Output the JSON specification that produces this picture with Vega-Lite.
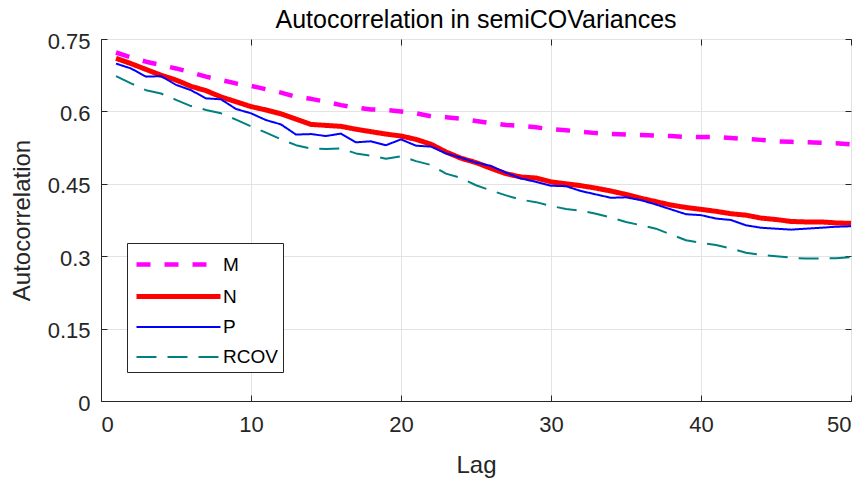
{
 "$schema": "https://vega.github.io/schema/vega-lite/v6.json",
 "width": 750, "height": 362,
 "autosize": {"type": "none"},
 "padding": {"left": 101, "top": 39, "right": 13, "bottom": 80},
 "background": "white",
 "title": {"text": "Autocorrelation in semiCOVariances", "fontSize": 25, "fontWeight": "normal", "font": "Liberation Sans", "color": "#000000", "offset": -3},
 "config": {
  "view": {"stroke": "#262626", "strokeWidth": 1},
  "axis": {"labelFont": "Liberation Sans", "labelFontSize": 22, "labelColor": "#262626", "titleFont": "Liberation Sans", "titleFontSize": 24, "titleFontWeight": "normal", "titleColor": "#262626", "domainColor": "#262626", "tickColor": "#262626", "gridColor": "#e3e3e3"},
  "legend": {"labelExpr": "datum.value + '\u2003\u2002'"}
 },
 "data": {"values": [
  {"lag":1,"M":0.722,"N":0.710,"P":0.699,"RCOV":0.673},
  {"lag":2,"M":0.712,"N":0.699,"P":0.689,"RCOV":0.658},
  {"lag":3,"M":0.703,"N":0.687,"P":0.672,"RCOV":0.644},
  {"lag":4,"M":0.696,"N":0.675,"P":0.673,"RCOV":0.637},
  {"lag":5,"M":0.689,"N":0.665,"P":0.655,"RCOV":0.624},
  {"lag":6,"M":0.681,"N":0.652,"P":0.644,"RCOV":0.611},
  {"lag":7,"M":0.672,"N":0.643,"P":0.627,"RCOV":0.603},
  {"lag":8,"M":0.665,"N":0.630,"P":0.625,"RCOV":0.596},
  {"lag":9,"M":0.658,"N":0.620,"P":0.605,"RCOV":0.583},
  {"lag":10,"M":0.653,"N":0.610,"P":0.596,"RCOV":0.569},
  {"lag":11,"M":0.646,"N":0.603,"P":0.582,"RCOV":0.556},
  {"lag":12,"M":0.639,"N":0.595,"P":0.573,"RCOV":0.542},
  {"lag":13,"M":0.630,"N":0.584,"P":0.552,"RCOV":0.530},
  {"lag":14,"M":0.626,"N":0.573,"P":0.553,"RCOV":0.523},
  {"lag":15,"M":0.620,"N":0.571,"P":0.549,"RCOV":0.522},
  {"lag":16,"M":0.613,"N":0.569,"P":0.554,"RCOV":0.523},
  {"lag":17,"M":0.608,"N":0.563,"P":0.536,"RCOV":0.513},
  {"lag":18,"M":0.604,"N":0.558,"P":0.538,"RCOV":0.508},
  {"lag":19,"M":0.603,"N":0.553,"P":0.530,"RCOV":0.502},
  {"lag":20,"M":0.600,"N":0.549,"P":0.542,"RCOV":0.507},
  {"lag":21,"M":0.596,"N":0.542,"P":0.529,"RCOV":0.497},
  {"lag":22,"M":0.590,"N":0.532,"P":0.527,"RCOV":0.489},
  {"lag":23,"M":0.588,"N":0.516,"P":0.513,"RCOV":0.471},
  {"lag":24,"M":0.585,"N":0.503,"P":0.504,"RCOV":0.462},
  {"lag":25,"M":0.580,"N":0.494,"P":0.494,"RCOV":0.447},
  {"lag":26,"M":0.576,"N":0.482,"P":0.487,"RCOV":0.436},
  {"lag":27,"M":0.572,"N":0.471,"P":0.473,"RCOV":0.426},
  {"lag":28,"M":0.570,"N":0.464,"P":0.461,"RCOV":0.417},
  {"lag":29,"M":0.567,"N":0.462,"P":0.454,"RCOV":0.412},
  {"lag":30,"M":0.563,"N":0.454,"P":0.446,"RCOV":0.404},
  {"lag":31,"M":0.561,"N":0.450,"P":0.445,"RCOV":0.398},
  {"lag":32,"M":0.558,"N":0.446,"P":0.435,"RCOV":0.394},
  {"lag":33,"M":0.555,"N":0.441,"P":0.428,"RCOV":0.388},
  {"lag":34,"M":0.553,"N":0.435,"P":0.421,"RCOV":0.380},
  {"lag":35,"M":0.552,"N":0.428,"P":0.422,"RCOV":0.371},
  {"lag":36,"M":0.551,"N":0.420,"P":0.416,"RCOV":0.364},
  {"lag":37,"M":0.550,"N":0.413,"P":0.407,"RCOV":0.357},
  {"lag":38,"M":0.549,"N":0.406,"P":0.397,"RCOV":0.345},
  {"lag":39,"M":0.547,"N":0.401,"P":0.387,"RCOV":0.333},
  {"lag":40,"M":0.547,"N":0.397,"P":0.385,"RCOV":0.328},
  {"lag":41,"M":0.547,"N":0.393,"P":0.378,"RCOV":0.323},
  {"lag":42,"M":0.545,"N":0.388,"P":0.375,"RCOV":0.316},
  {"lag":43,"M":0.543,"N":0.385,"P":0.364,"RCOV":0.307},
  {"lag":44,"M":0.541,"N":0.379,"P":0.359,"RCOV":0.303},
  {"lag":45,"M":0.538,"N":0.376,"P":0.357,"RCOV":0.300},
  {"lag":46,"M":0.537,"N":0.372,"P":0.355,"RCOV":0.297},
  {"lag":47,"M":0.536,"N":0.371,"P":0.357,"RCOV":0.295},
  {"lag":48,"M":0.535,"N":0.371,"P":0.359,"RCOV":0.295},
  {"lag":49,"M":0.534,"N":0.369,"P":0.361,"RCOV":0.296},
  {"lag":50,"M":0.532,"N":0.368,"P":0.362,"RCOV":0.298}
 ]},
 "transform": [{"fold": ["M", "N", "P", "RCOV"], "as": ["series", "value"]}],
 "layer": [
  {
   "mark": {"type": "line", "strokeCap": "butt", "strokeJoin": "round"},
   "encoding": {
    "x": {"field": "lag", "type": "quantitative", "scale": {"domain": [0, 50], "nice": false},
          "axis": {"values": [0, 10, 20, 30, 40, 50], "grid": true, "tickSize": -6, "labelPadding": 19, "title": "Lag", "titlePadding": 18}},
    "y": {"field": "value", "type": "quantitative", "scale": {"domain": [0, 0.75], "nice": false},
          "axis": {"values": [0, 0.15, 0.3, 0.45, 0.6, 0.75], "format": ".2~f", "grid": true, "tickSize": -6, "labelPadding": 17, "labelOffset": 2, "title": "Autocorrelation", "titlePadding": 13}},
    "color": {"field": "series", "type": "nominal",
              "scale": {"domain": ["M", "N", "P", "RCOV"], "range": ["#ff00ff", "#ff0000", "#0000ff", "#008080"]},
              "legend": {"orient": "none", "legendX": 26, "legendY": 204, "title": null, "fillColor": "white", "strokeColor": "#262626", "padding": 5,
                         "symbolType": "M-5,0H1", "symbolSize": 784, "symbolOffset": 58, "labelOffset": 0, "rowPadding": 5,
                         "labelFont": "Liberation Sans", "labelFontSize": 19, "labelColor": "#000000"}},
    "strokeDash": {"field": "series", "type": "nominal",
                   "scale": {"domain": ["M", "N", "P", "RCOV"], "range": [[14, 14], [1, 0], [1, 0], [20, 11]]}},
    "strokeWidth": {"field": "series", "type": "nominal",
                    "scale": {"type": "ordinal", "domain": ["M", "N", "P", "RCOV"], "range": [4.5, 5, 2, 2]}}
   }
  },
  {
   "mark": {"type": "line", "opacity": 0},
   "encoding": {
    "x": {"field": "lag", "type": "quantitative", "scale": {"domain": [0, 50], "nice": false},
          "axis": {"orient": "top", "values": [0, 10, 20, 30, 40, 50], "labels": false, "grid": false, "domain": false, "tickSize": -6, "title": null}},
    "y": {"field": "value", "type": "quantitative", "scale": {"domain": [0, 0.75], "nice": false},
          "axis": {"orient": "right", "values": [0, 0.15, 0.3, 0.45, 0.6, 0.75], "labels": false, "grid": false, "domain": false, "tickSize": -6, "title": null}}
   }
  }
 ],
 "resolve": {"axis": {"x": "independent", "y": "independent"}}
}
